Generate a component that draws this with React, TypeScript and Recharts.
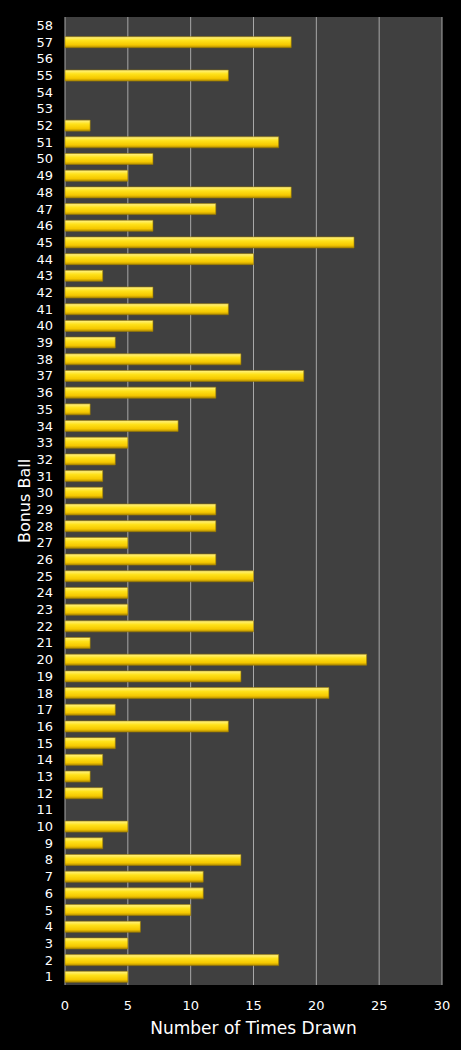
import React from 'react';
import { BarChart, Bar, XAxis, YAxis, CartesianGrid } from 'recharts';

const balls = Array.from({ length: 58 }, (_, i) => String(i + 1));
const timesDrawn = [
  5, 17, 5, 6, 10, 11, 11, 14, 3, 5,
  0, 3, 2, 3, 4, 13, 4, 21, 14, 24,
  2, 15, 5, 5, 15, 12, 5, 12, 12, 3,
  3, 4, 5, 9, 2, 12, 19, 14, 4, 7,
  13, 7, 3, 15, 23, 7, 12, 18, 5, 7,
  17, 2, 0, 0, 13, 0, 18, 0,
];
const xTicks = [0, 5, 10, 15, 20, 25, 30];

const data = balls.map((ball, i) => ({ ball, count: timesDrawn[i] }));

export default function App() {
  return (
    <div style={{ position: 'absolute', left: 0, top: 0, width: 461, height: 1050, background: '#000' }}>
      <BarChart
        width={461}
        height={1050}
        data={data}
        layout="vertical"
        margin={{ top: 17, right: 19, left: 0, bottom: 0 }}
        style={{ fontFamily: 'DejaVu Sans, Verdana, sans-serif' }}
      >
        <defs>
          <linearGradient id="gold" x1="0" y1="0" x2="0" y2="1">
            <stop offset="0%" stopColor="#fff38a" />
            <stop offset="35%" stopColor="#ffe21a" />
            <stop offset="75%" stopColor="#f5c800" />
            <stop offset="100%" stopColor="#b08a00" />
          </linearGradient>
        </defs>
        <CartesianGrid horizontal={false} fill="#404040" stroke="#a8a8a8" strokeWidth={1} />
        <XAxis
          type="number"
          domain={[0, 30]}
          ticks={xTicks}
          height={65}
          axisLine={false}
          tickLine={false}
          tick={{ fill: '#fff', fontSize: 13 }}
          tickMargin={10}
          label={{ value: 'Number of Times Drawn', position: 'insideBottom', offset: 16, fill: '#fff', fontSize: 17 }}
        />
        <YAxis
          type="category"
          dataKey="ball"
          reversed
          width={65}
          interval={0}
          axisLine={false}
          tickLine={false}
          tick={{ fill: '#fff', fontSize: 13 }}
          tickMargin={6}
          label={{ value: 'Bonus Ball', angle: -90, position: 'insideLeft', offset: 24, fill: '#fff', fontSize: 16, style: { textAnchor: 'middle' } }}
        />
        <Bar dataKey="count" barSize={11} fill="url(#gold)" stroke="#9c7c00" strokeWidth={0.6} isAnimationActive={false} />
      </BarChart>
    </div>
  );
}
